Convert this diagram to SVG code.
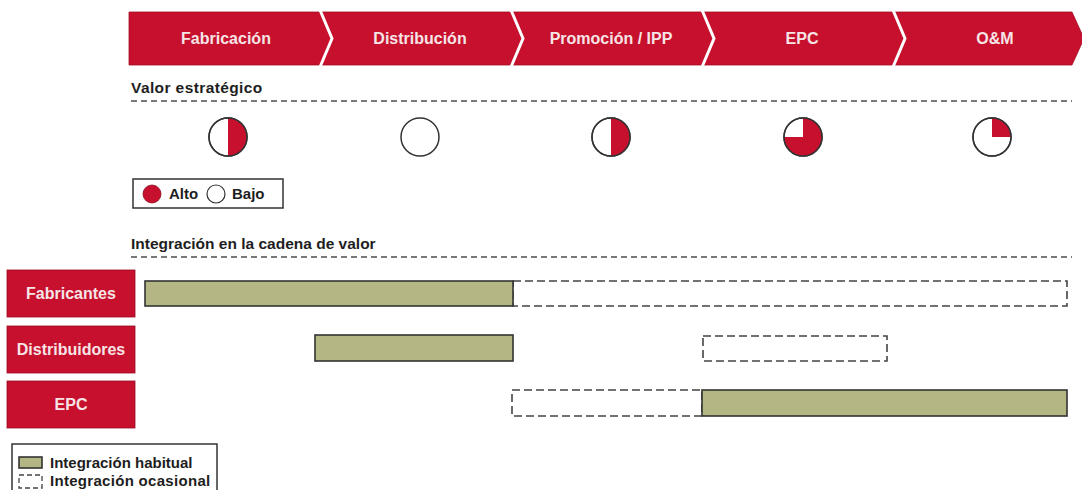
<svg xmlns="http://www.w3.org/2000/svg" width="1082" height="490" viewBox="0 0 1082 490">
<defs>
<style>
.seg{fill:#c6102d;stroke:#a50c24;stroke-width:0.8}
.div{fill:none;stroke:#fff;stroke-width:3}
.st{font-family:"Liberation Sans",Arial,sans-serif;font-weight:bold;font-size:16px;fill:#f6e4e6;text-anchor:middle}
.hd{font-family:"Liberation Sans",Arial,sans-serif;font-weight:bold;font-size:15.5px;fill:#1e1e1e}
.lg{font-family:"Liberation Sans",Arial,sans-serif;font-weight:bold;font-size:15px;fill:#1e1e1e}
.sep{stroke:#7a7a7a;stroke-width:2;stroke-dasharray:6 4;fill:none}
.pie{fill:#fff;stroke:#333;stroke-width:1.5}
.red{fill:#c6102d}
.lab{fill:#c6102d;stroke:#9a0c22;stroke-width:0.8}
.labt{font-family:"Liberation Sans",Arial,sans-serif;font-weight:bold;font-size:16px;fill:#f6e4e6;text-anchor:middle}
.hab{fill:#b4b783;stroke:#333;stroke-width:1.6}
.oca{fill:none;stroke:#444;stroke-width:1.6;stroke-dasharray:8 4}
</style>
</defs>
<g id="chain">
<g id="s-fabricacion"><polygon class="seg" points="129,12 320,12 332,38.5 320,65 129,65"/><text class="st" x="226" y="44">Fabricación</text></g>
<g id="s-distribucion"><polygon class="seg" points="320,12 511,12 523,38.5 511,65 320,65 332,38.5"/><text class="st" x="420" y="44">Distribución</text></g>
<g id="s-promocion"><polygon class="seg" points="511,12 702,12 714,38.5 702,65 511,65 523,38.5"/><text class="st" x="611" y="44">Promoción / IPP</text></g>
<g id="s-epc"><polygon class="seg" points="702,12 893,12 905,38.5 893,65 702,65 714,38.5"/><text class="st" x="802" y="44">EPC</text></g>
<g id="s-om"><polygon class="seg" points="893,12 1072,12 1084,38.5 1072,65 893,65 905,38.5"/><text class="st" x="995" y="44">O&amp;M</text></g>
<polyline class="div" points="320,10 332,38.5 320,67"/>
<polyline class="div" points="511,10 523,38.5 511,67"/>
<polyline class="div" points="702,10 714,38.5 702,67"/>
<polyline class="div" points="893,10 905,38.5 893,67"/>
</g>
<g id="valor">
<text class="hd" x="131" y="93" letter-spacing="0.4">Valor estratégico</text>
<line class="sep" x1="131" y1="101" x2="1072" y2="101"/>
<g id="v-fabricacion"><circle class="pie" cx="228" cy="137" r="19"/><path class="red" d="M228,118 A19,19 0 0 1 228,156 Z"/><circle cx="228" cy="137" r="19" fill="none" stroke="#333" stroke-width="1.5"/></g>
<g id="v-distribucion"><circle class="pie" cx="420" cy="137" r="19"/></g>
<g id="v-promocion"><circle class="pie" cx="611" cy="137" r="19"/><path class="red" d="M611,118 A19,19 0 0 1 611,156 Z"/><circle cx="611" cy="137" r="19" fill="none" stroke="#333" stroke-width="1.5"/></g>
<g id="v-epc"><circle class="pie" cx="803" cy="137" r="19"/><path class="red" d="M803,137 L803,118 A19,19 0 1 1 784,137 Z"/><circle cx="803" cy="137" r="19" fill="none" stroke="#333" stroke-width="1.5"/></g>
<g id="v-om"><circle class="pie" cx="992" cy="137" r="19"/><path class="red" d="M992,137 L992,118 A19,19 0 0 1 1011,137 Z"/><circle cx="992" cy="137" r="19" fill="none" stroke="#333" stroke-width="1.5"/></g>
<g id="legend-valor">
<rect x="133" y="179" width="150" height="29" fill="#fff" stroke="#333" stroke-width="1.5"/>
<circle cx="152" cy="194" r="9" fill="#c6102d" stroke="#8a0a1e" stroke-width="0.8"/>
<text class="lg" x="169" y="199">Alto</text>
<circle cx="216" cy="194" r="9" fill="#fff" stroke="#333" stroke-width="1.2"/>
<text class="lg" x="232" y="199">Bajo</text>
</g>
</g>
<g id="integracion">
<text class="hd" x="131" y="249">Integración en la cadena de valor</text>
<line class="sep" x1="131" y1="257" x2="1072" y2="257"/>
<g id="r-fabricantes"><rect class="lab" x="7" y="270" width="128" height="47"/><text class="labt" x="71" y="299">Fabricantes</text></g>
<g id="r-distribuidores"><rect class="lab" x="7" y="326" width="128" height="47"/><text class="labt" x="71" y="355">Distribuidores</text></g>
<g id="r-epc"><rect class="lab" x="7" y="381" width="128" height="47"/><text class="labt" x="71" y="410">EPC</text></g>
</g>
<g id="bars">
<rect class="oca" x="513" y="281" width="554" height="25"/>
<rect class="hab" x="145" y="281" width="368" height="25"/>
<rect class="hab" x="315" y="335" width="198" height="26"/>
<rect class="oca" x="703" y="336" width="184" height="25"/>
<rect class="oca" x="512" y="390" width="190" height="26"/>
<rect class="hab" x="702" y="390" width="365" height="26"/>
</g>
<g id="legend-integracion">
<rect x="12" y="444" width="205" height="52" fill="#fff" stroke="#333" stroke-width="1.5"/>
<rect class="hab" x="19" y="457" width="23" height="11" stroke-width="1.2"/>
<text class="lg" x="50" y="468">Integración habitual</text>
<rect x="19" y="475" width="23" height="13" fill="none" stroke="#444" stroke-width="1.3" stroke-dasharray="5 3"/>
<text class="lg" x="50" y="486" letter-spacing="0.3">Integración ocasional</text>
</g>
</svg>
